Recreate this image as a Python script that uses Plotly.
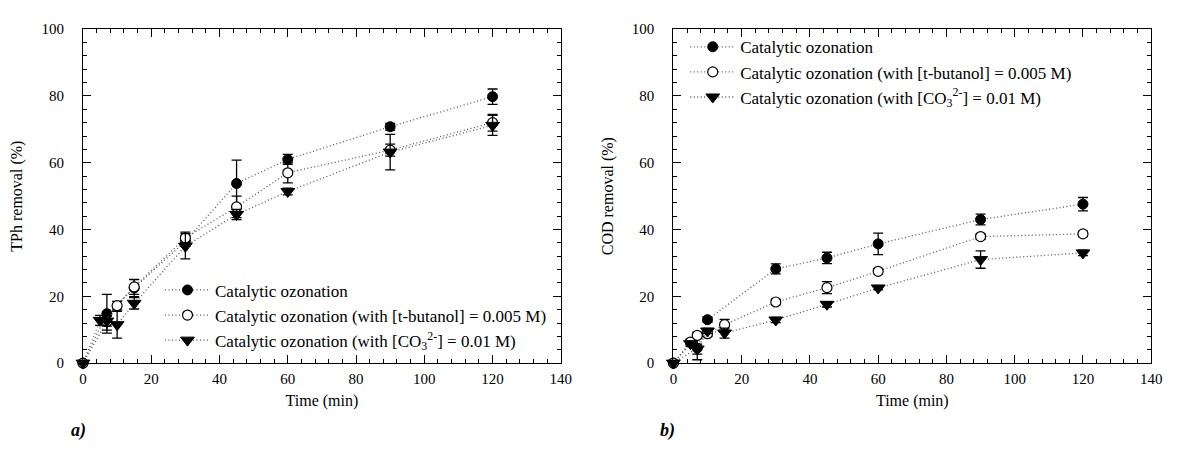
import plotly.graph_objects as go

# ---------------- data (panel a: TPh removal) ----------------
a_cat_t = [0, 7, 15, 30, 45, 60, 90, 120]
a_cat_v = [0, 14.8, 22.5, 36.5, 53.8, 61.0, 70.8, 79.8]
a_cat_e = [0, 5.8, 2.6, 1.5, 7.0, 1.5, 1.0, 2.3]

a_but_t = [0, 7, 10, 15, 30, 45, 60, 90, 120]
a_but_v = [0, 12.4, 17.2, 22.8, 37.5, 46.8, 57.0, 63.8, 72.0]
a_but_e = [0, 2.5, 1.3, 2.2, 1.7, 3.2, 3.0, 1.8, 2.5]

a_co3_t = [0, 5, 7, 10, 15, 30, 45, 60, 90, 120]
a_co3_v = [0, 12.8, 12.6, 11.5, 17.9, 35.0, 44.5, 51.4, 63.2, 71.2]
a_co3_e = [0, 1.5, 1.5, 4.0, 1.7, 3.8, 1.5, 1.0, 5.3, 3.0]

# ---------------- data (panel b: COD removal) ----------------
b_cat_t = [0, 7, 10, 30, 45, 60, 90, 120]
b_cat_v = [0, 4.5, 13.0, 28.2, 31.5, 35.7, 43.0, 47.6]
b_cat_e = [0, 3.5, 0.8, 1.5, 1.7, 3.2, 1.6, 2.0]

b_but_t = [0, 5, 7, 10, 15, 30, 45, 60, 90, 120]
b_but_v = [0, 6.3, 8.3, 8.8, 11.5, 18.3, 22.6, 27.5, 37.9, 38.7]
b_but_e = [0, 0.8, 1.0, 0.8, 1.6, 0.8, 1.8, 0.8, 0.8, 0.8]

b_co3_t = [0, 5, 7, 10, 15, 30, 45, 60, 90, 120]
b_co3_v = [0, 5.8, 4.2, 9.6, 9.0, 12.9, 17.6, 22.5, 31.0, 33.0]
b_co3_e = [0, 0.8, 1.5, 0.8, 1.5, 0.8, 0.8, 0.6, 2.6, 0.8]

names = [
    "Catalytic ozonation",
    "Catalytic ozonation (with [t-butanol] = 0.005 M)",
    "Catalytic ozonation (with [CO<sub>3</sub><sup>2-</sup>] = 0.01 M)",
]

x_ticks = [0, 20, 40, 60, 80, 100, 120, 140]
y_ticks = [0, 20, 40, 60, 80, 100]

FONT = "Liberation Serif"

styles = [
    dict(symbol="circle", size=10, color="black", line=dict(color="black", width=1)),
    dict(symbol="circle", size=10, color="white", line=dict(color="black", width=1.2)),
    dict(symbol="triangle-down", size=12, color="black", line=dict(color="black", width=1)),
]

fig = go.Figure()

panels = [
    ("x", "y", "legend", [(a_cat_t, a_cat_v, a_cat_e), (a_but_t, a_but_v, a_but_e), (a_co3_t, a_co3_v, a_co3_e)]),
    ("x2", "y2", "legend2", [(b_cat_t, b_cat_v, b_cat_e), (b_but_t, b_but_v, b_but_e), (b_co3_t, b_co3_v, b_co3_e)]),
]

for xa, ya, lg, series in panels:
    for i, (t, v, e) in enumerate(series):
        fig.add_trace(go.Scatter(
            x=t, y=v, mode="lines+markers", name=names[i],
            xaxis=xa, yaxis=ya, legend=lg,
            line=dict(color="#555555", width=1.3, dash="1px,2.5px"),
            marker=styles[i],
            error_y=dict(type="data", array=e, visible=True, color="black", thickness=1.3, width=5),
            cliponaxis=False,
        ))

def xaxis(domain, anchor):
    return dict(
        domain=domain, anchor=anchor, range=[0, 140], tickvals=x_ticks,
        ticks="inside", ticklen=8, tickwidth=1, tickcolor="black",
        showline=True, linecolor="black", linewidth=1.2, mirror="allticks",
        showgrid=False, zeroline=False,
        minor=dict(dtick=4, ticks="inside", ticklen=4, tickcolor="black", tickwidth=1, showgrid=False),
        tickfont=dict(family=FONT, size=15, color="black"),
        ticklabelstandoff=2,
        title=dict(text="Time (min)", font=dict(family=FONT, size=16, color="black"), standoff=8),
    )

def yaxis(anchor, title):
    return dict(
        domain=[1 - 368 / 456, 1 - 22 / 456], anchor=anchor, range=[0, 100], tickvals=y_ticks,
        ticks="inside", ticklen=8, tickwidth=1, tickcolor="black",
        showline=True, linecolor="black", linewidth=1.2, mirror="allticks",
        showgrid=False, zeroline=False,
        minor=dict(dtick=4, ticks="inside", ticklen=4, tickcolor="black", tickwidth=1, showgrid=False),
        tickfont=dict(family=FONT, size=15, color="black"),
        ticklabelstandoff=15,
        title=dict(text=title, font=dict(family=FONT, size=16, color="black"), standoff=14),
    )

legend_common = dict(
    font=dict(family=FONT, size=17, color="black"),
    bgcolor="rgba(0,0,0,0)", borderwidth=0, itemwidth=45,
    xanchor="left", yanchor="top", tracegroupgap=0,
)

fig.update_layout(
    width=1180, height=456,
    margin=dict(l=0, r=0, t=0, b=0),
    font=dict(family=FONT, color="black"),
    paper_bgcolor="white", plot_bgcolor="white",
    xaxis=xaxis([80 / 1180, 564 / 1180], "y"),
    yaxis=yaxis("x", "TPh removal (%)"),
    xaxis2=xaxis([678 / 1180, 1162 / 1180], "y2"),
    yaxis2=yaxis("x2", "COD removal (%)"),
    legend=dict(x=158 / 1180, y=1 - 274 / 456, **legend_common),
    legend2=dict(x=690 / 1180, y=1 - 22 / 456, **legend_common),
    showlegend=True,
    annotations=[
        dict(text="<b><i>a)</i></b>", x=66 / 1180, y=1 - 438 / 456, xref="paper", yref="paper",
             showarrow=False, xanchor="left", yanchor="middle", font=dict(family=FONT, size=18, color="black")),
        dict(text="<b><i>b)</i></b>", x=662 / 1180, y=1 - 438 / 456, xref="paper", yref="paper",
             showarrow=False, xanchor="left", yanchor="middle", font=dict(family=FONT, size=18, color="black")),
    ],
)

fig.write_html("out.html")
